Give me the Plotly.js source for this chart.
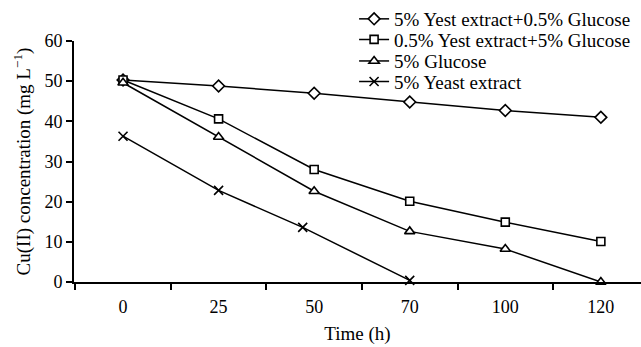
<!DOCTYPE html>
<html>
<head>
<meta charset="utf-8">
<script src="https://cdn.plot.ly/plotly-3.0.1.min.js"></script>
<style>html,body{margin:0;padding:0;background:#fff;}#chart{width:641px;height:347px;}</style>
</head>
<body>
<div id="chart"></div>
<script>
// Time labels (categorical, equally spaced in the figure)
const timeLabels = ['0', '25', '50', '70', '100', '120'];
const timePos = [0, 1, 2, 3, 4, 5];
// Yeast-extract series is drawn at slightly shifted position for 50 h in the reference
const yeastPos = [0, 1, 1.88, 3];

const seriesNames = [
  '5% Yest extract+0.5% Glucose',
  '0.5% Yest extract+5% Glucose',
  '5% Glucose',
  '5% Yeast extract'
];
const yestGlucose05 = [50.3, 48.8, 47.0, 44.8, 42.7, 41.0];
const yest05Glucose5 = [50.3, 40.6, 28.0, 20.1, 14.9, 10.1];
const glucose5 = [49.6, 36.1, 22.6, 12.6, 8.2, 0];
const yeast5 = [36.3, 22.8, 13.6, 0.4];

const FONT = '"Liberation Serif", "Times New Roman", serif';

function tr(x, y, name, symbol, size, legend, fill) {
  return {
    x: x, y: y, name: name, type: 'scatter', mode: 'lines+markers',
    line: {color: '#000', width: 1.5},
    marker: {symbol: symbol, size: size, color: fill, line: {color: '#000', width: 1.6}},
    cliponaxis: false,
    legend: legend
  };
}

const data = [
  tr(timePos, yestGlucose05, seriesNames[0], 'diamond', 9, 'legend', '#fff'),
  tr(timePos, yest05Glucose5, seriesNames[1], 'square', 8, 'legend2', '#fff'),
  tr(timePos, glucose5, seriesNames[2], 'triangle-up', 9, 'legend3', '#fff'),
  tr(yeastPos, yeast5, seriesNames[3], 'x-thin', 9, 'legend4', '#000')
];

function leg(y) {
  return {x: 0.494, xanchor: 'left', y: y, yanchor: 'middle', bgcolor: 'rgba(0,0,0,0)',
          font: {family: FONT, size: 19, color: '#000'}, borderwidth: 0};
}

const layout = {
  width: 641, height: 347,
  margin: {l: 74, r: 0, t: 36, b: 65},
  paper_bgcolor: '#fff', plot_bgcolor: '#fff',
  font: {family: FONT, size: 19, color: '#000'},
  showlegend: true,
  legend: leg(1.0935),
  legend2: leg(1.0061),
  legend3: leg(0.9166),
  legend4: leg(0.8313),
  xaxis: {
    range: [-0.513, 5.42],
    tickvals: timePos, ticktext: timeLabels,
    ticks: '', showgrid: false, zeroline: false,
    showline: true, linecolor: '#000', linewidth: 2,
    ticklabelstandoff: 7,
    minor: {tick0: 0.5, dtick: 1, ticks: 'outside', ticklen: 6, tickwidth: 2, tickcolor: '#000', showgrid: false},
    tickfont: {family: FONT, size: 18},
    title: {text: 'Time (h)', font: {family: FONT, size: 19}, standoff: 11}
  },
  yaxis: {
    range: [0, 60], dtick: 10, tick0: 0,
    ticks: 'outside', ticklen: 6, tickwidth: 2, tickcolor: '#000',
    showgrid: false, zeroline: false,
    showline: true, linecolor: '#000', linewidth: 2,
    tickfont: {family: FONT, size: 18},
    title: {text: 'Cu(II) concentration (mg L<sup>\u22121</sup>)', font: {family: FONT, size: 19}, standoff: 9}
  }
};

Plotly.newPlot('chart', data, layout, {displayModeBar: false, staticPlot: true});
</script>
</body>
</html>
